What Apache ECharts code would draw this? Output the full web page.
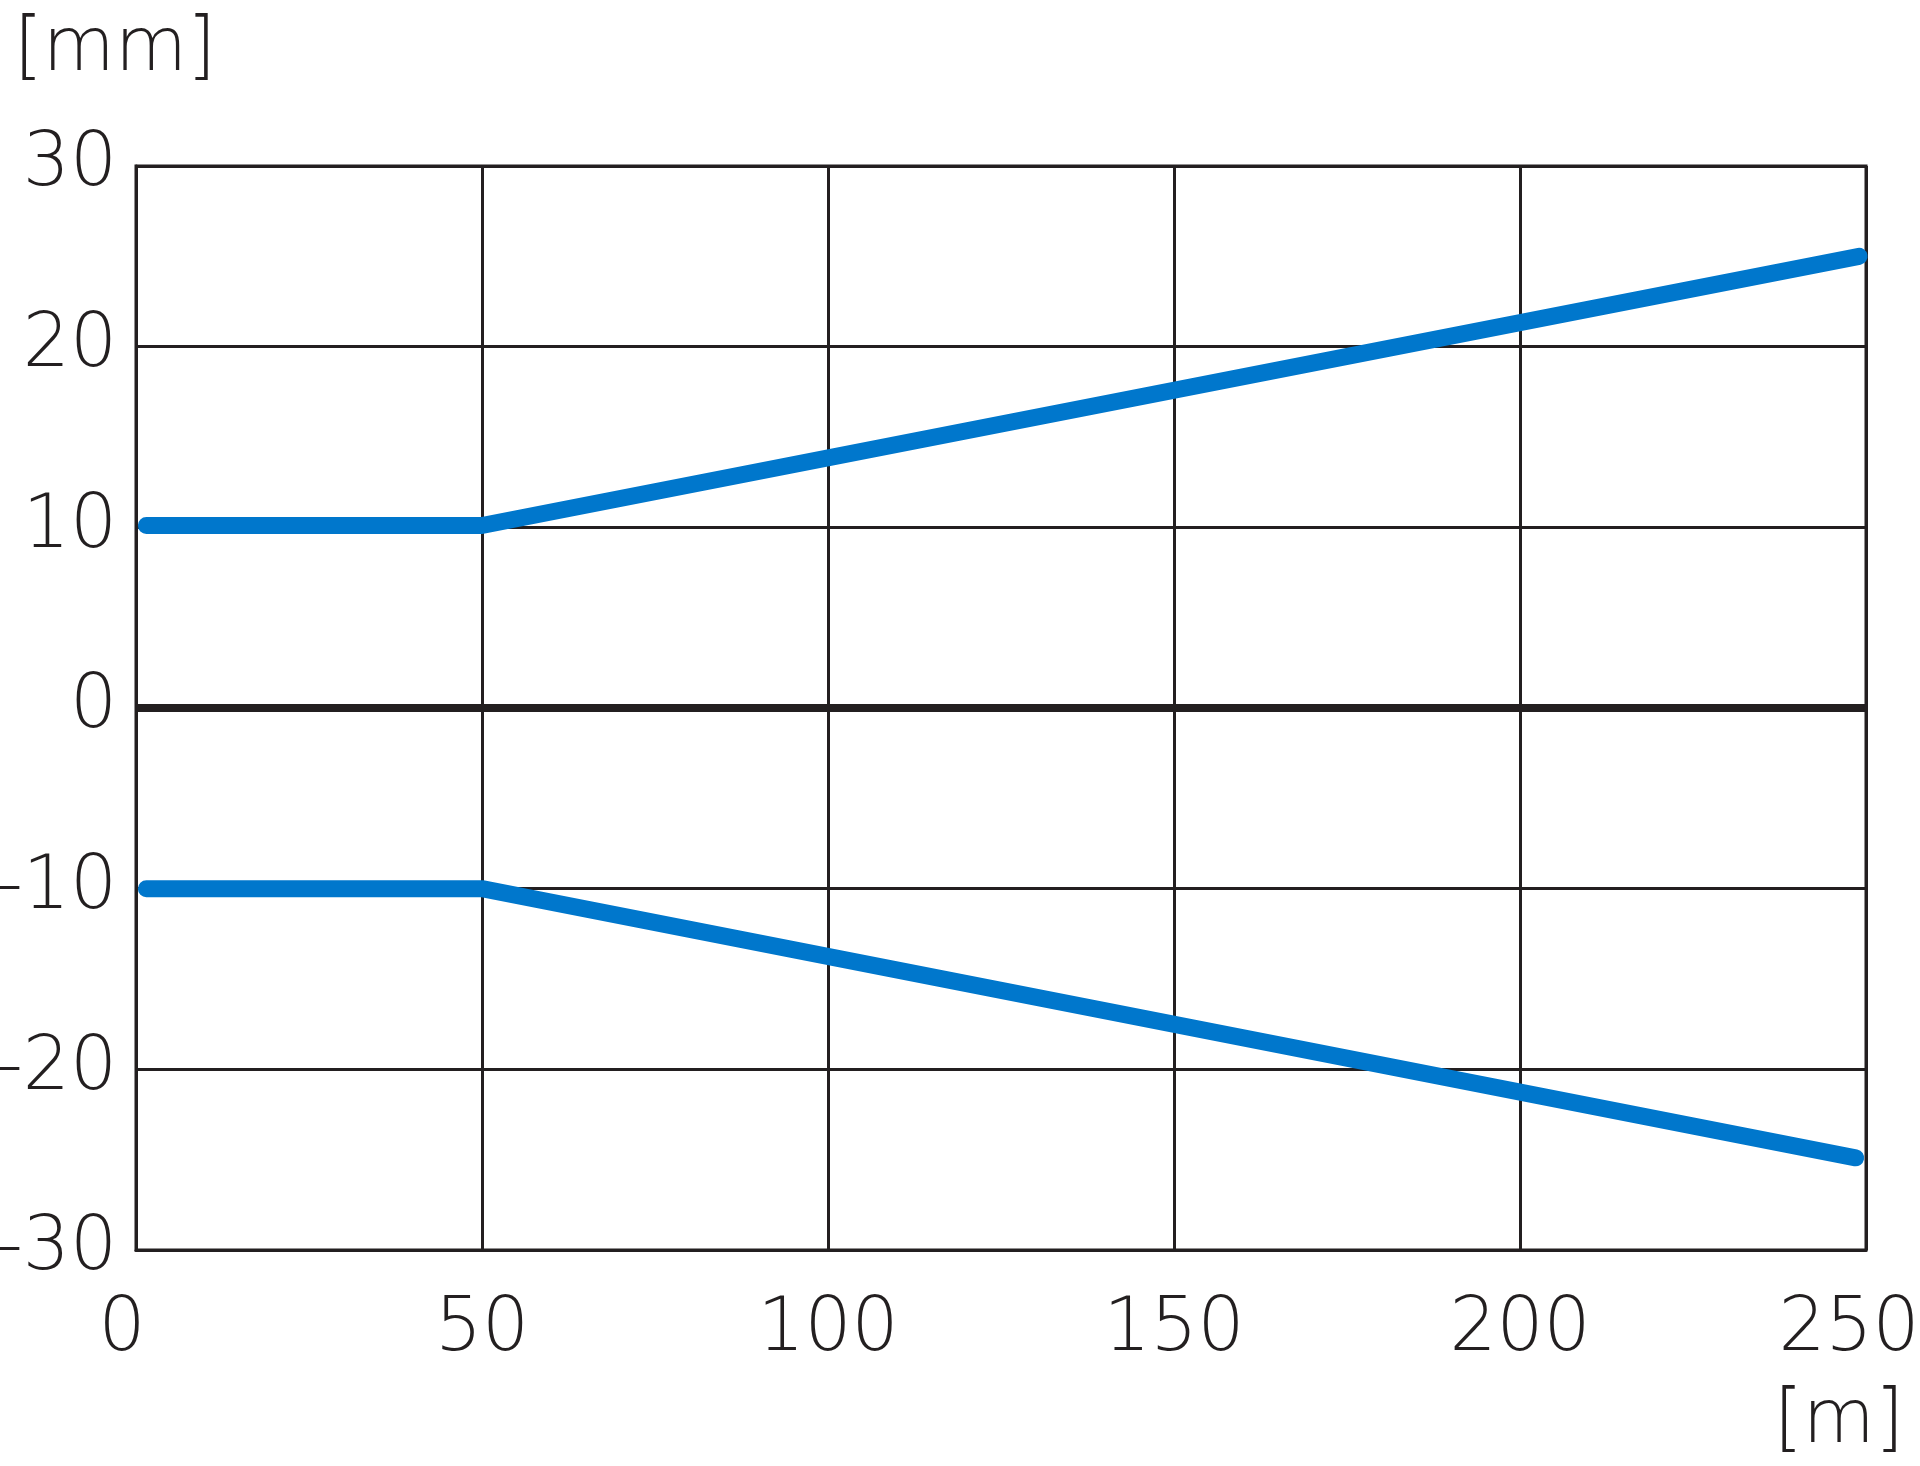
<!DOCTYPE html>
<html>
<head>
<meta charset="utf-8">
<style>
  html, body { margin: 0; padding: 0; background: #ffffff; }
  #chart { width: 1920px; height: 1466px; }
</style>
<script src="https://cdn.jsdelivr.net/npm/echarts@6/dist/echarts.min.js"></script>
</head>
<body>
<div id="chart"></div>
<script>
// ---- data ----
const xTicks = [0, 50, 100, 150, 200, 250];
const yTicks = [-30, -20, -10, 0, 10, 20, 30];
const upperX = [1.5, 50, 249];
const upperY = [10.1, 10.1, 25.0];
const lowerX = [1.5, 50, 248.5];
const lowerY = [-10.0, -10.0, -24.9];
const yUnit = '[mm]';
const xUnit = '[m]';

const INK = '#231f20';
const BLUE = '#0077cc';
const FONT = 'DejaVu Sans';

const chart = echarts.init(document.getElementById('chart'), null, { renderer: 'canvas' });

function pairs(xs, ys) { return xs.map((x, i) => [x, ys[i]]); }

const option = {
  backgroundColor: '#ffffff',
  animation: false,
  grid: {
    left: 136, right: 54, top: 166, bottom: 216,
    outerBoundsMode: 'none', containLabel: false,
    show: true, borderColor: INK, borderWidth: 3, backgroundColor: 'transparent'
  },
  xAxis: {
    type: 'value',
    min: xTicks[0], max: xTicks[xTicks.length - 1], interval: 50,
    axisLine: { show: true, onZero: false, lineStyle: { color: INK, width: 3 } },
    axisTick: { show: false },
    splitLine: { show: true, lineStyle: { color: INK, width: 3 } },
    axisLabel: {
      color: INK, fontFamily: FONT, fontSize: 74, fontWeight: 200, margin: 44,
      hideOverlap: false,
      formatter: function (v) {
        if (v === xTicks[0]) return '{lo|' + v + '}';
        if (v === xTicks[xTicks.length - 1]) return '{hi|' + v + '}';
        return String(v);
      },
      rich: {
        lo: { fontFamily: FONT, fontSize: 74, fontWeight: 200, color: INK, padding: [0, 28, 0, 0] },
        hi: { fontFamily: FONT, fontSize: 74, fontWeight: 200, color: INK, padding: [0, 34, 0, 0] }
      }
    }
  },
  yAxis: {
    type: 'value',
    min: yTicks[0], max: yTicks[yTicks.length - 1], interval: 10,
    axisLine: { show: true, onZero: false, lineStyle: { color: INK, width: 3 } },
    axisTick: { show: false },
    splitLine: { show: true, lineStyle: { color: INK, width: 3 } },
    axisLabel: { color: INK, fontFamily: FONT, fontSize: 74, fontWeight: 200, margin: 19, hideOverlap: false }
  },
  graphic: [
    { type: 'text', left: 14, top: 14,
      style: { text: yUnit, fill: INK, font: '200 74px "DejaVu Sans"' } },
    { type: 'text', left: 1774, top: 1386,
      style: { text: xUnit, fill: INK, font: '200 74px "DejaVu Sans"' } }
  ],
  series: [
    {
      type: 'line', data: pairs(upperX, upperY), showSymbol: false, symbol: 'none',
      lineStyle: { color: BLUE, width: 17, cap: 'round', join: 'round' }, z: 5,
      markLine: {
        silent: true, symbol: 'none', label: { show: false },
        lineStyle: { color: INK, width: 8, type: 'solid' },
        data: [{ yAxis: 0 }], z: 3
      }
    },
    {
      type: 'line', data: pairs(lowerX, lowerY), showSymbol: false, symbol: 'none',
      lineStyle: { color: BLUE, width: 17, cap: 'round', join: 'round' }, z: 5
    }
  ]
};
chart.setOption(option);
</script>
</body>
</html>
